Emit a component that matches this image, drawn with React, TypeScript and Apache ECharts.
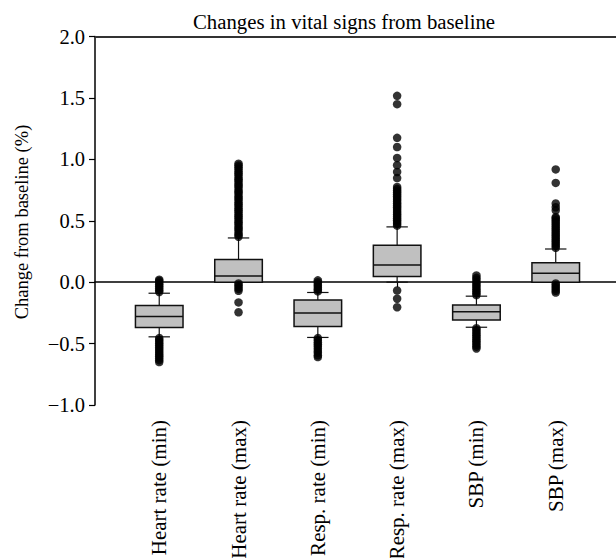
import React, { useEffect, useRef } from "react";
import * as echarts from "echarts";

const categories = [
  "Heart rate (min)",
  "Heart rate (max)",
  "Resp. rate (min)",
  "Resp. rate (max)",
  "SBP (min)",
  "SBP (max)",
];
const positions = [1, 2, 3, 4, 5, 6];
const whiskerLow = [-0.445, 0.0, -0.45, 0.0, -0.367, 0.0];
const q1 = [-0.37, 0.0, -0.36, 0.046, -0.307, 0.0];
const medians = [-0.28, 0.05, -0.25, 0.14, -0.24, 0.073];
const q3 = [-0.19, 0.185, -0.145, 0.3, -0.185, 0.158];
const whiskerHigh = [-0.09, 0.36, -0.084, 0.45, -0.114, 0.27];

const outliersHeartMin = [
  -0.08, -0.065, -0.05, -0.035, -0.02, -0.005, 0.01, 0.02,
  -0.455, -0.47, -0.485, -0.5, -0.515, -0.53, -0.545, -0.56, -0.575, -0.59, -0.605, -0.62, -0.635, -0.65,
];
const outliersHeartMax = [
  0.37, 0.385, 0.4, 0.42, 0.435, 0.45, 0.47, 0.485, 0.5, 0.52, 0.535, 0.55, 0.57, 0.585, 0.6,
  0.62, 0.635, 0.65, 0.67, 0.685, 0.7, 0.72, 0.735, 0.75, 0.77, 0.785, 0.8, 0.82, 0.835, 0.85,
  0.87, 0.885, 0.9, 0.92, 0.935, 0.95, 0.965,
  -0.01, -0.025, -0.04, -0.055, -0.07, -0.165, -0.245,
];
const outliersRespMin = [
  -0.075, -0.06, -0.045, -0.03, -0.015, 0.0, 0.015,
  -0.455, -0.47, -0.49, -0.505, -0.52, -0.54, -0.56, -0.575, -0.595, -0.61,
];
const outliersRespMax = [
  0.46, 0.475, 0.49, 0.505, 0.52, 0.535, 0.55, 0.565, 0.58, 0.595, 0.61, 0.625, 0.64, 0.655,
  0.67, 0.685, 0.7, 0.715, 0.73, 0.745, 0.76, 0.775, 0.848, 0.897, 0.952, 1.011, 1.1, 1.175,
  1.449, 1.517, -0.068, -0.135, -0.204,
];
const outliersSbpMin = [
  -0.105, -0.09, -0.075, -0.06, -0.045, -0.03, -0.015, 0.0, 0.02, 0.035, 0.055,
  -0.375, -0.39, -0.405, -0.42, -0.435, -0.45, -0.465, -0.48, -0.495, -0.51, -0.525, -0.54,
];
const outliersSbpMax = [
  0.28, 0.295, 0.31, 0.325, 0.34, 0.355, 0.37, 0.385, 0.4, 0.415, 0.43, 0.445, 0.46, 0.475,
  0.49, 0.505, 0.52, 0.53, 0.585, 0.61, 0.64, 0.808, 0.918,
  -0.01, -0.025, -0.04, -0.055, -0.07, -0.085,
];
const outlierGroups = [
  outliersHeartMin,
  outliersHeartMax,
  outliersRespMin,
  outliersRespMax,
  outliersSbpMin,
  outliersSbpMax,
];
const yTicks = [-1.0, -0.5, 0.0, 0.5, 1.0, 1.5, 2.0];
const yAxisTitle = "Change from baseline (%)";

const FONT = "Liberation Serif";

export default function App() {
  const ref = useRef<HTMLDivElement>(null);
  useEffect(() => {
    if (!ref.current) return;
    const chart = echarts.init(ref.current, null, { renderer: "svg" });
    const boxData = positions.map((p, i) => [
      p,
      whiskerLow[i],
      q1[i],
      medians[i],
      q3[i],
      whiskerHigh[i],
    ]);
    const outlierData: number[][] = [];
    outlierGroups.forEach((g, i) => g.forEach((v) => outlierData.push([positions[i], v])));

    const renderItem = (params: any, api: any) => {
      const x = api.value(0);
      const pLow = api.coord([x, api.value(1)]);
      const pQ1 = api.coord([x, api.value(2)]);
      const pMed = api.coord([x, api.value(3)]);
      const pQ3 = api.coord([x, api.value(4)]);
      const pHigh = api.coord([x, api.value(5)]);
      const band = api.size([1, 0])[0];
      const bw = band * 0.6;
      const cw = band * 0.27;
      const cx = pMed[0];
      const lineStyle = { stroke: "#111", lineWidth: 1.2 };
      return {
        type: "group",
        children: [
          { type: "line", shape: { x1: cx, y1: pHigh[1], x2: cx, y2: pQ3[1] }, style: lineStyle },
          { type: "line", shape: { x1: cx, y1: pQ1[1], x2: cx, y2: pLow[1] }, style: lineStyle },
          { type: "line", shape: { x1: cx - cw / 2, y1: pHigh[1], x2: cx + cw / 2, y2: pHigh[1] }, style: lineStyle },
          { type: "line", shape: { x1: cx - cw / 2, y1: pLow[1], x2: cx + cw / 2, y2: pLow[1] }, style: lineStyle },
          {
            type: "rect",
            shape: { x: cx - bw / 2, y: pQ3[1], width: bw, height: pQ1[1] - pQ3[1] },
            style: { fill: "#c0c0c0", stroke: "#111", lineWidth: 1.5 },
          },
          { type: "line", shape: { x1: cx - bw / 2, y1: pMed[1], x2: cx + bw / 2, y2: pMed[1] }, style: { stroke: "#111", lineWidth: 1.5 } },
        ],
      };
    };

    chart.setOption({
      animation: false,
      backgroundColor: "#fff",
      textStyle: { fontFamily: FONT },
      title: {
        text: "Changes in vital signs from baseline",
        left: 339,
        textAlign: "center",
        top: 6,
        textStyle: { fontFamily: FONT, fontSize: 20.8, fontWeight: "normal", color: "#000" },
      },
      graphic: [
        {
          type: "text",
          x: 22,
          y: 222,
          rotation: Math.PI / 2,
          style: {
            text: yAxisTitle,
            fontFamily: FONT,
            fontSize: 18.5,
            fill: "#000",
            align: "center",
            verticalAlign: "middle",
          },
        },
      ],
      grid: { left: 95, right: 0, top: 36.5, bottom: 153, outerBoundsMode: "none", containLabel: false },
      xAxis: [
        {
          type: "value",
          min: 0.19,
          max: 6.76,
          splitLine: { show: false },
          axisLine: { show: true, lineStyle: { color: "#000", width: 1.5 } },
          axisTick: { show: true, customValues: positions, length: 5, lineStyle: { color: "#000", width: 1.2 } },
          axisLabel: {
            show: true,
            customValues: positions,
            rotate: 90,
            margin: 15,
            fontFamily: FONT,
            fontSize: 21,
            color: "#000",
            formatter: (v: number) => categories[Math.round(v) - 1] ?? "",
          },
        },
        {
          type: "value",
          position: "top",
          min: 0.19,
          max: 6.76,
          splitLine: { show: false },
          axisLine: { show: true, lineStyle: { color: "#333", width: 2 } },
          axisTick: { show: false },
          axisLabel: { show: false },
        },
      ],
      yAxis: {
        type: "value",
        min: -1.0,
        max: 2.0,
        interval: 0.5,
        splitLine: { show: false },
        axisLine: { show: true, lineStyle: { color: "#000", width: 1.5 } },
        axisTick: { show: true, length: 6, lineStyle: { color: "#000", width: 1.2 } },
        axisLabel: {
          margin: 10,
          fontFamily: FONT,
          fontSize: 20.5,
          color: "#000",
          customValues: yTicks,
          formatter: (v: number) => (v < 0 ? "\u2212" + Math.abs(v).toFixed(1) : v.toFixed(1)),
        },
      },
      series: [
        {
          type: "custom",
          xAxisIndex: 0,
          renderItem,
          data: boxData,
          encode: { x: 0, y: [1, 2, 3, 4, 5] },
          z: 2,
        },
        {
          type: "scatter",
          xAxisIndex: 0,
          data: outlierData,
          symbol: "circle",
          symbolSize: 8.5,
          itemStyle: { color: "#000" },
          z: 3,
        },
      ],
    });
    return () => chart.dispose();
  }, []);
  return (
    <div
      ref={ref}
      style={{ position: "fixed", left: 0, top: 0, width: 616, height: 558 }}
    />
  );
}
